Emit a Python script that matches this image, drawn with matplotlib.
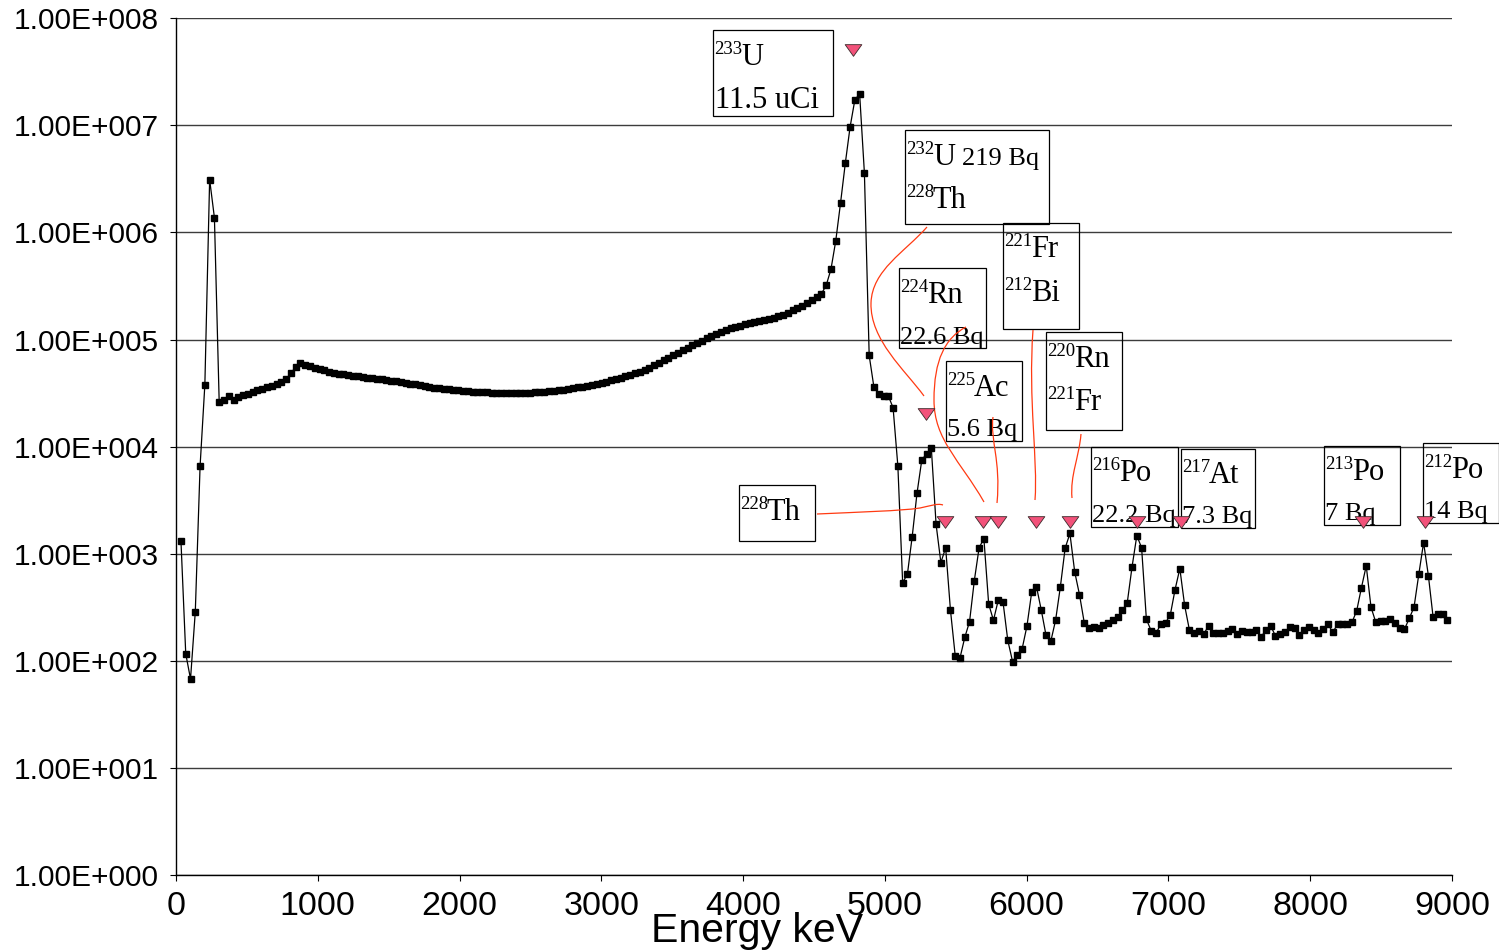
import numpy as np
import matplotlib
matplotlib.use("Agg")
import matplotlib.pyplot as plt
from matplotlib.path import Path
from matplotlib.patches import PathPatch, Rectangle
from matplotlib.transforms import Affine2D
from matplotlib.ticker import FixedLocator, FuncFormatter, NullLocator

plt.rcParams['font.family'] = ['Liberation Sans', 'DejaVu Sans']

# spectrum: channel -> energy calibration (keV)
n_chan = 266
energy = 35.0 + 33.71 * np.arange(n_chan)

counts = [
    1315, 117, 68, 289, 6580, 37900, 3110000, 1370000, 26100, 27200,
    29500, 27400, 29000, 30300, 31300, 32600, 33700, 34800, 36000, 37000,
    38200, 39800, 42700, 48600, 55300, 60900, 58400, 56500, 54500, 53000,
    51500, 50100, 49100, 48100, 47400, 46500, 45900, 45500, 44800, 44100,
    43700, 43000, 42400, 41800, 41200, 40600, 40100, 39400, 38700, 38100,
    37400, 36800, 36100, 35600, 35200, 34800, 34300, 34000, 33600, 33200,
    33000, 32700, 32500, 32300, 32100, 32000, 31900, 31800, 31700, 31700,
    31700, 31800, 31900, 32000, 32200, 32400, 32600, 32900, 33200, 33600,
    34000, 34500, 35100, 35800, 36400, 37000, 37700, 38600, 39400, 40400,
    41500, 42700, 44000, 45300, 46800, 48300, 50100, 52300, 54700, 57500,
    60800, 64300, 67800, 71500, 75500, 79600, 84000, 88700, 93100, 97900,
    103000, 108200, 113500, 118500, 123000, 127200, 131200, 134900, 138400, 141400,
    144500, 147600, 150800, 154300, 158800, 164200, 170600, 178100, 186900, 196300,
    207200, 219500, 235500, 250000, 267000, 320000, 452000, 830000, 1870000, 4400000,
    9600000, 17200000, 19600000, 3580000, 71000, 35700, 31000, 29800, 29800, 23100,
    6600, 540, 647, 1450, 3660, 7490, 8600, 9730, 1880, 830,
    1140, 300, 112, 107, 166, 233, 564, 1140, 1390, 341,
    240, 369, 356, 156, 99, 115, 130, 211, 438, 495,
    300, 174, 153, 240, 492, 1130, 1550, 680, 417, 228,
    202, 209, 202, 217, 228, 242, 256, 300, 351, 757,
    1480, 1140, 245, 192, 181, 220, 228, 269, 464, 730,
    331, 195, 184, 192, 179, 212, 181, 181, 184, 192,
    200, 180, 191, 185, 185, 193, 167, 196, 213, 172,
    179, 185, 207, 203, 176, 193, 207, 196, 182, 198,
    221, 185, 221, 222, 221, 229, 294, 485, 773, 318,
    230, 234, 234, 246, 226, 203, 198, 250, 318, 646,
    1275, 628, 255, 274, 275, 242,
]

# reference line energies (keV) and marker heights
line_energy = [4777, 5290, 5424, 5694, 5800, 6066, 6306, 6780, 7086, 8370, 8812]
line_level = [5e7, 2e4, 2e3, 2e3, 2e3, 2e3, 2e3, 2e3, 2e3, 2e3, 2e3]

W, H = 1499, 950
fig = plt.figure(figsize=(W / 100, H / 100), dpi=100)
ax = fig.add_axes([176 / W, 1 - 875.4 / H, 1276 / W, 857.4 / H])
# layout transform: pixels from the top-left corner of the figure
px = Affine2D().scale(1 / W, -1 / H).translate(0, 1) + fig.transFigure

ax.plot(energy, counts, color='black', lw=0.9, marker='s', ms=5,
        mfc='black', mec='black', zorder=3)

tri = Path([(-1, 0.7), (1, 0.7), (0, -0.7), (-1, 0.7)],
           [Path.MOVETO, Path.LINETO, Path.LINETO, Path.CLOSEPOLY])
ax.plot(line_energy, line_level, ls='none', marker=tri, ms=12,
        mfc='#f2527a', mec='#3a2a2a', mew=0.6, zorder=5, clip_on=False)

ax.set_yscale('log')
ax.set_xlim(0, 9000)
ax.set_ylim(1, 1e8)
ax.yaxis.set_major_locator(FixedLocator([10.0 ** k for k in range(9)]))
ax.yaxis.set_minor_locator(NullLocator())
ax.yaxis.set_major_formatter(FuncFormatter(
    lambda v, pos: "1.00E+%03d" % int(round(np.log10(v)))))
ax.set_xticks(np.arange(0, 9001, 1000))

ax.yaxis.grid(True, color='#3c3c3c', lw=1.0)
ax.xaxis.grid(False)
ax.set_axisbelow(True)
for side in ('top', 'right'):
    ax.spines[side].set_visible(False)
for side in ('left', 'bottom'):
    ax.spines[side].set_color('black')
    ax.spines[side].set_linewidth(1.0)

ax.tick_params(axis='y', direction='out', length=4.3, width=0.8, pad=8,
               labelsize=21.5, colors='black')
ax.tick_params(axis='x', direction='out', length=4.3, width=0.8, pad=7,
               labelsize=24.5, colors='black')

fig.text(757 / W, 1 - 942 / H, 'Energy keV', ha='center', va='baseline',
         fontsize=29.5)

serif = ['Liberation Serif', 'DejaVu Serif']
red = '#ff3a12'

# labelled boxes: (left, top, right, bottom, [(mass, symbol, baseline), ...],
#                  [(text, x offset, baseline, size), ...])
boxes = [
    (713, 30, 833, 116, [('233', 'U', 65)], [('11.5 uCi', 2, 108, 22)]),
    (905, 130, 1049, 224, [('232', 'U', 165), ('228', 'Th', 208)],
     [('219 Bq', 57, 165, 19)]),
    (899, 268, 986, 348, [('224', 'Rn', 303)], [('22.6 Bq', 1, 344, 19)]),
    (1003, 223, 1079, 329, [('221', 'Fr', 257), ('212', 'Bi', 301)], []),
    (946, 361, 1022, 441, [('225', 'Ac', 396)], [('5.6 Bq', 1, 436, 19)]),
    (1046, 332, 1122, 430, [('220', 'Rn', 367), ('221', 'Fr', 410)], []),
    (739, 485, 815, 541, [('228', 'Th', 520)], []),
    (1091, 447, 1178, 527, [('216', 'Po', 481)], [('22.2 Bq', 1, 522, 19)]),
    (1181, 449, 1255, 528, [('217', 'At', 483)], [('7.3 Bq', 1, 523, 19)]),
    (1324, 446, 1400, 525, [('213', 'Po', 480)], [('7 Bq', 1, 520, 19)]),
    (1423, 443, 1499, 523, [('212', 'Po', 478)], [('14 Bq', 1, 518, 19)]),
]

for left, top, right, bottom, nuclides, extra in boxes:
    ax.add_patch(Rectangle((left, top), right - left, bottom - top,
                           transform=px, fill=False, ec='black', lw=0.9,
                           clip_on=False, zorder=4))
    for mass, symbol, base in nuclides:
        ax.text(left + 1, base - 11, mass, transform=px, family=serif,
                fontsize=13.5, va='baseline', ha='left', clip_on=False, zorder=4)
        ax.text(left + 28, base, symbol, transform=px, family=serif,
                fontsize=22, va='baseline', ha='left', clip_on=False, zorder=4)
    for s, dx, base, size in extra:
        ax.text(left + dx, base, s, transform=px, family=serif,
                fontsize=size, va='baseline', ha='left', clip_on=False, zorder=4)

# leader curves from the boxes to their markers
leaders = [
    [(927, 227), (905, 252), (872, 270), (871, 303),
     (870, 340), (905, 370), (924, 396)],
    [(966, 327), (945, 338), (934, 360), (934, 400),
     (934, 440), (960, 460), (984, 502)],
    [(993, 417), (990, 440), (1001, 460), (997, 503)],
    [(1033, 330), (1028, 400), (1038, 460), (1035, 500)],
    [(1081, 434), (1079, 458), (1070, 475), (1072, 498)],
    [(817, 514), (860, 512), (900, 511), (920, 508),
     (930, 506), (937, 503), (943, 505)],
]
for pts in leaders:
    codes = [Path.MOVETO] + [Path.CURVE4] * (len(pts) - 1)
    ax.add_patch(PathPatch(Path(pts, codes), transform=px, fill=False,
                           ec=red, lw=0.9, clip_on=False, zorder=4))

fig.savefig('out.png', dpi=100)
